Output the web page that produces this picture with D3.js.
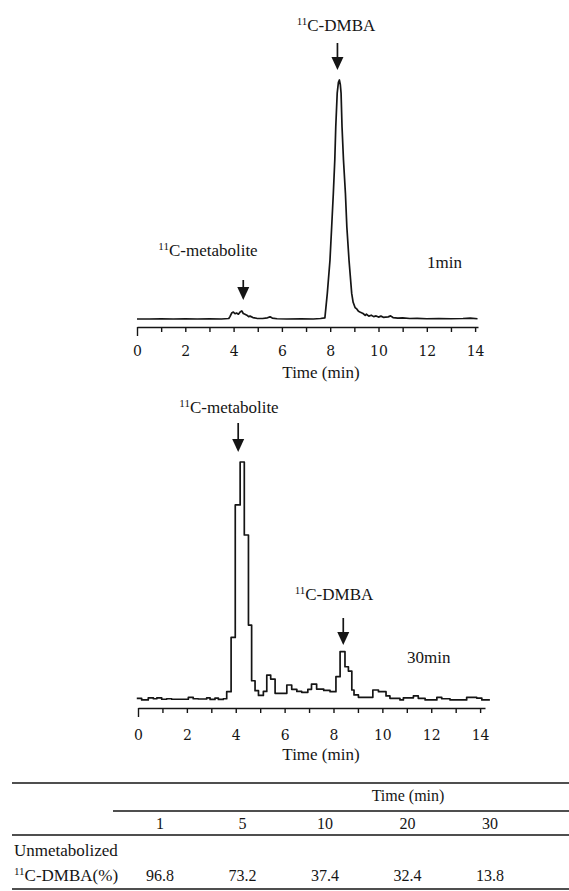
<!DOCTYPE html>
<html>
<head>
<meta charset="utf-8">
<script src="https://cdn.jsdelivr.net/npm/d3@7"></script>
<style>
body { margin: 0; background: #fff; }
svg text { font-family: "Liberation Serif", "Times New Roman", serif; fill: #151515; }
</style>
</head>
<body>
<script>
// Radio-HPLC of plasma, 1 min after injection (time in min, counts relative to peak)
var run1Time = [0, 0.5, 1.0, 1.5, 2.0, 2.5, 3.0, 3.5, 3.8, 3.85,
	3.92, 3.99, 4.06, 4.12, 4.2, 4.27, 4.34, 4.4, 4.47, 4.55,
	4.62, 4.68, 4.8, 4.96, 5.2, 5.4, 5.51, 5.6, 5.8, 6.2,
	6.8, 7.3, 7.6, 7.78, 7.88, 7.99, 8.06, 8.13, 8.19, 8.23,
	8.29, 8.34, 8.38, 8.42, 8.45, 8.49, 8.55, 8.63, 8.69, 8.78,
	8.89, 8.95, 9.03, 9.1, 9.17, 9.25, 9.36, 9.45, 9.5, 9.6,
	9.7, 9.8, 9.9, 10.0, 10.1, 10.2, 10.4, 10.5, 10.6, 10.8,
	11.0, 11.3, 11.6, 12.0, 12.5, 13.0, 13.5, 13.8, 14.1];
var run1Counts = [0, 0, 0.1, 0, 0.1, 0, 0.1, 0, 0.2, 1.0,
	2.5, 2.9, 2.2, 2.5, 2.0, 2.9, 3.4, 2.3, 2.0, 1.6,
	1.0, 1.2, 0.6, 0.3, 0.2, 0.5, 0.9, 0.4, 0.1, 0,
	0.1, 0, 0.2, 0.5, 10.7, 24.5, 38.4, 52.6, 66.5, 80.3,
	94.5, 99, 100, 98, 94.5, 80.3, 66.5, 52.6, 38.4, 24.5,
	10.7, 7.0, 4.8, 4.2, 3.2, 2.8, 2.3, 1.5, 2.0, 1.2,
	1.6, 1.0, 1.3, 0.8, 1.2, 0.7, 0.9, 1.3, 0.6, 0.4,
	0.5, 0.2, 0.3, 0.1, 0.2, 0.1, 0.2, 0.4, 0.1];

// 30 min after injection (binned counts, drawn as steps)
var run30Time = [-0.05, 0.15, 0.42, 0.63, 0.77, 0.97, 1.17, 1.38, 2.06, 2.26,
	2.47, 2.81, 2.95, 3.15, 3.29, 3.49, 3.63, 3.81, 3.98, 4.18,
	4.35, 4.52, 4.65, 4.79, 4.93, 5.13, 5.27, 5.43, 5.61, 6.09,
	6.29, 6.5, 6.7, 6.95, 7.1, 7.31, 7.6, 7.86, 8.1, 8.27,
	8.47, 8.61, 8.75, 8.84, 9.02, 9.61, 9.84, 10.15, 10.31, 10.72,
	10.86, 11.27, 11.47, 11.75, 12.23, 12.43, 12.77, 13.45, 13.86, 14.07,
	14.4];
var run30Counts = [0.3, -0.4, 0.5, 0.1, 0.5, -0.1, 0.1, -0.1, 0.7, 0.1,
	0.0, 0.5, -0.2, 0.4, -0.2, 0.1, 3.1, 26, 81.9, 100,
	69.2, 31.2, 7.7, 3.5, 1.5, 3.2, 10.1, 8.4, 2.4, 5.9,
	4.1, 3.2, 2.8, 4.1, 6.3, 4.2, 3.6, 3.1, 9.4, 20,
	13.6, 11.8, 3.8, 1.7, 0.7, 3.8, 3.1, 1.3, 0.3, -0.4,
	0.5, 1.3, 0.3, -0.4, 0.7, 0.1, -0.4, 0.7, 0.4, -0.4,
	-0.4];

// Axis ticks (min)
var timeTicks = d3.range(0, 15, 1);

// Table below the charts
var sampleTimes = ["1", "5", "10", "20", "30"];
var unmetabolized = [96.8, 73.2, 37.4, 32.4, 13.8];

var width = 569;
var height = 891;

var svg = d3.select("body")
	.append("svg")
	.attr("width", width)
	.attr("height", height);

var ink = "#151515";

// Arrow pointing down, tip at (x, yTip)
function drawArrow(x, yTop, yTip) {
	svg.append("line")
		.attr("x1", x).attr("x2", x)
		.attr("y1", yTop).attr("y2", yTip - 10)
		.attr("stroke", ink)
		.attr("stroke-width", 1.7);
	svg.append("path")
		.attr("d", "M" + (x - 6) + "," + (yTip - 13) + "L" + (x + 6) + "," + (yTip - 13) + "L" + x + "," + yTip + "Z")
		.attr("fill", ink);
}

// Label with superscript mass number
function drawIsotopeLabel(x, y, rest) {
	var t = svg.append("text")
		.attr("x", x)
		.attr("y", y)
		.attr("text-anchor", "middle")
		.attr("font-size", "17px");
	t.append("tspan").attr("font-size", "11px").attr("dy", -6).text("11");
	t.append("tspan").attr("dy", 6).text(rest);
}

function drawChromatogram(opts) {
	var x = d3.scaleLinear().domain([0, opts.axisEnd]).range(opts.xRange);
	var y = d3.scaleLinear().domain([0, 100]).range(opts.yRange);

	var axis = d3.axisBottom(x)
		.tickValues(timeTicks)
		.tickSize(5)
		.tickSizeOuter(0)
		.tickPadding(opts.padding)
		.tickFormat((d) => {return d % 2 === 0 ? d : ""});

	var g = svg.append("g")
		.attr("transform", "translate(0," + opts.axisY + ")")
		.call(axis);
	g.select(".domain").attr("stroke", ink).attr("stroke-width", 1.7);
	g.selectAll(".tick line").attr("stroke", ink).attr("stroke-width", 1.4);
	// first tick is drawn longer
	g.selectAll(".tick line").filter((d) => {return d === 0}).attr("y2", 9);
	g.selectAll(".tick text")
		.style("font-family", "'DejaVu Serif', serif")
		.style("font-size", "14px")
		.style("fill", ink);

	svg.append("text")
		.attr("x", 321)
		.attr("y", opts.titleY)
		.attr("text-anchor", "middle")
		.attr("font-size", "17px")
		.text("Time (min)");

	var line = d3.line()
		.x((d) => {return x(d[0])})
		.y((d) => {return y(d[1])})
		.curve(opts.curve);

	svg.append("path")
		.datum(d3.zip(opts.time, opts.counts))
		.attr("d", line)
		.attr("fill", "none")
		.attr("stroke", ink)
		.attr("stroke-width", 1.7)
		.attr("stroke-linejoin", "round");

	return {x: x, y: y};
}

// Top panel: 1 min
var top1 = drawChromatogram({
	time: run1Time, counts: run1Counts, curve: d3.curveLinear,
	axisEnd: 14.12, xRange: [137, 478], yRange: [319, 80],
	axisY: 327, padding: 14, titleY: 378
});

drawIsotopeLabel(336, 31, "C-DMBA");
drawArrow(top1.x(8.3), 43, 70);
drawIsotopeLabel(208, 256, "C-metabolite");
drawArrow(top1.x(4.4), 280, 300);
svg.append("text")
	.attr("x", 427).attr("y", 268)
	.attr("font-size", "17px")
	.text("1min");

// Bottom panel: 30 min
var bot30 = drawChromatogram({
	time: run30Time, counts: run30Counts, curve: d3.curveStepAfter,
	axisEnd: 14.2, xRange: [138, 485], yRange: [699, 462],
	axisY: 708, padding: 17, titleY: 760
});

drawIsotopeLabel(229, 413, "C-metabolite");
drawArrow(bot30.x(4.1), 423, 452);
drawIsotopeLabel(334, 600, "C-DMBA");
drawArrow(bot30.x(8.4), 618, 645);
svg.append("text")
	.attr("x", 407).attr("y", 663)
	.attr("font-size", "17px")
	.text("30min");

// Table
var col = d3.scalePoint().domain(sampleTimes).range([160, 490]);

function rule(x1, y, sw) {
	svg.append("line")
		.attr("x1", x1).attr("x2", width)
		.attr("y1", y).attr("y2", y)
		.attr("stroke", ink)
		.attr("stroke-width", sw);
}

rule(12, 783, 1.7);
rule(113, 811, 1.3);
rule(12, 835, 1.3);
rule(12, 889, 1.3);

svg.append("text")
	.attr("x", 408).attr("y", 801)
	.attr("text-anchor", "middle")
	.attr("font-size", "16px")
	.text("Time (min)");

svg.selectAll("text.head")
	.data(sampleTimes)
	.enter()
	.append("text")
	.attr("class", "head")
	.attr("x", (d) => {return col(d)})
	.attr("y", 829)
	.attr("text-anchor", "middle")
	.attr("font-size", "16px")
	.text((d) => {return d});

svg.append("text")
	.attr("x", 14).attr("y", 856)
	.attr("font-size", "17px")
	.text("Unmetabolized");

var rowLabel = svg.append("text")
	.attr("x", 14).attr("y", 881)
	.attr("font-size", "17px");
rowLabel.append("tspan").attr("font-size", "11px").attr("dy", -6).text("11");
rowLabel.append("tspan").attr("dy", 6).text("C-DMBA(%)");

svg.selectAll("text.val")
	.data(unmetabolized)
	.enter()
	.append("text")
	.attr("class", "val")
	.attr("x", (d, i) => {return col(sampleTimes[i])})
	.attr("y", 881)
	.attr("text-anchor", "middle")
	.attr("font-size", "16px")
	.text((d) => {return d.toFixed(1)});
</script>
</body>
</html>
